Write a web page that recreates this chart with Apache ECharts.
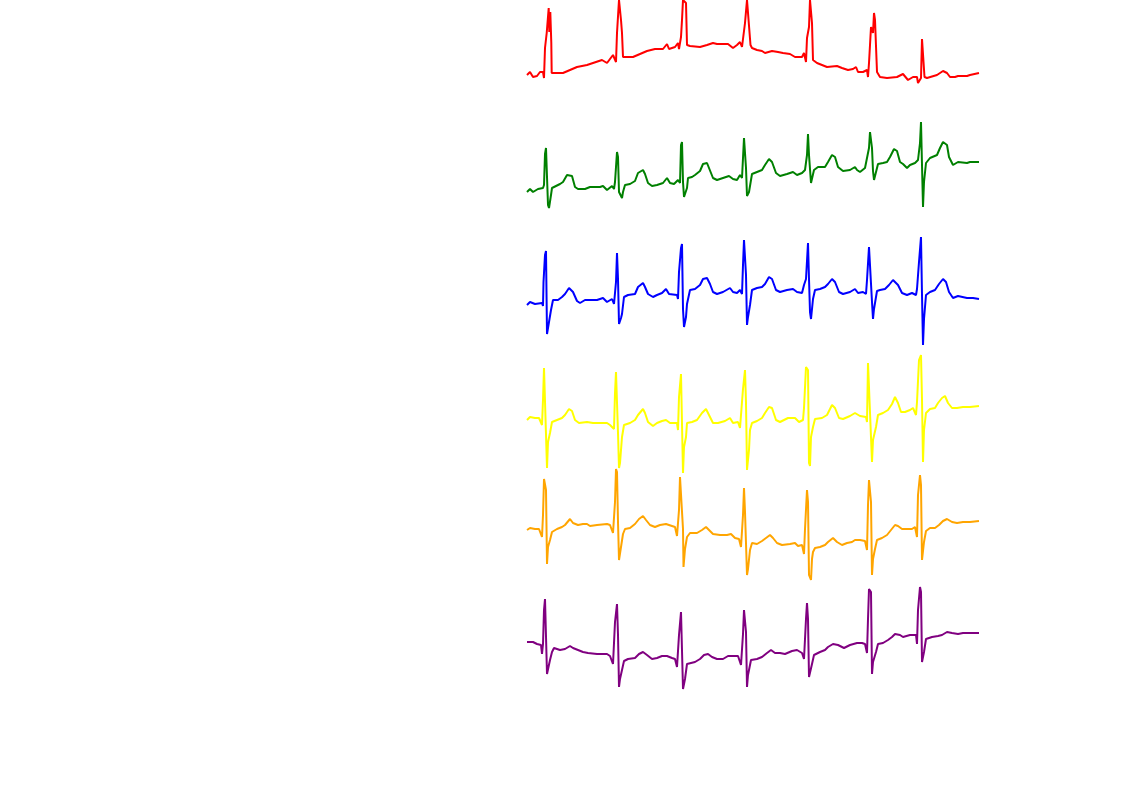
<!DOCTYPE html>
<html>
<head>
<meta charset="utf-8">
<script src="https://cdn.jsdelivr.net/npm/echarts@6/dist/echarts.min.js"></script>
<style>html,body{margin:0;padding:0;background:#fff}#c{width:1122px;height:793px}</style>
</head>
<body>
<div id="c"></div>
<script>
// Each lead: [sample, amplitude] pairs (amplitude positive = up, relative to lead baseline)
const lead1 = [[0,0],[3,3],[6,-2],[10,-1],[13,3],[16,3],[17,-3],[18,27],[19.7,42],[21.7,67],[22.3,43],[23.3,63],[24.3,32],[24.7,2],[36,2],[43,5],[50,8],[60,10],[66,12],[75,15],[76,17],[80,12],[86,20],[89,13],[90,42],[92,75],[94,55],[95,42],[96,18],[98,18],[106,18],[108,20],[113,21],[120,24],[128,26],[130,24],[136,26],[140,31],[142,26],[148,28],[151,32],[152,26],[154,38],[155,55],[156,75],[159,72],[160,30],[163,29],[173,28],[180,30],[186,32],[190,31],[201,31],[203,33],[206,27],[210,30],[213,33],[215,28],[216,26],[218,52],[220,75],[222,73],[223.5,30],[225,27],[230,25],[235,24],[238,22],[245,24],[251,23],[256,22],[263,21],[265,22],[268,18],[275,18],[277,22],[279,13],[280,37],[282,48],[283,75],[285,52],[286,15],[290,12],[295,10],[300,8],[310,9],[315,7],[321,5],[326,6],[329,8],[331,3],[336,3],[340,5],[341,-2],[342,12],[344,48],[346,42],[347,62],[348,55],[350,3],[353,-2],[360,-3],[370,-2],[376,1],[378,2],[381,-5],[386,-2],[390,-2],[391,-8],[394,-3],[394.5,17],[395,36],[397,35],[397.5,-2],[400,-3],[410,0],[416,4],[420,2],[423,-2],[428,-2],[431,-1],[440,-1],[443,0],[452,2]];
const lead2 = [[0,-2],[3,1],[6,-2],[11,1],[16,2],[17,5],[18,36],[19,42],[20,13],[21,-15],[22,-18],[24,-5],[25,2],[26,3],[33,6],[36,8],[40,15],[42,17],[45,14],[48,3],[51,1],[58,1],[63,3],[73,3],[76,4],[80,0],[85,4],[87,1],[88,8],[90,38],[91,33],[92,-2],[94,-3],[95,-8],[96,-2],[98,5],[103,6],[108,9],[111,17],[116,20],[118,16],[121,7],[125,4],[130,5],[136,7],[140,12],[143,7],[147,6],[151,10],[153,7],[154,45],[155,48],[156,8],[157,-7],[159,-5],[160,2],[161,12],[165,13],[168,15],[173,19],[176,26],[180,27],[182,22],[186,12],[190,10],[196,12],[202,14],[206,11],[210,10],[213,15],[215,12],[217,52],[219,22],[220,-6],[222,-2],[225,16],[230,18],[235,20],[238,25],[242,31],[245,28],[249,17],[253,14],[260,16],[266,18],[270,15],[275,17],[278,20],[280,35],[281,56],[282,35],[284,7],[286,5],[287,20],[291,23],[298,23],[301,28],[305,35],[308,33],[311,23],[316,19],[323,20],[328,23],[330,20],[333,18],[338,22],[340,22],[342,42],[343,58],[345,42],[346,19],[347,10],[349,18],[351,26],[356,27],[360,28],[363,33],[367,41],[370,39],[373,28],[376,26],[380,22],[383,25],[388,27],[391,30],[393,47],[394,68],[395,25],[396,-17],[397,8],[399,27],[403,32],[410,35],[413,42],[416,48],[420,45],[422,33],[426,25],[431,28],[440,27],[443,28],[452,28]];
const lead3 = [[0,-5],[3,-2],[8,-4],[15,-3],[16,-6],[16.5,18],[18,45],[19,49],[20,-34],[21,-36],[22,-22],[24,-10],[26,0],[31,0],[35,3],[38,6],[42,12],[46,8],[50,-1],[53,-3],[58,0],[70,0],[76,2],[80,-2],[85,1],[87,-4],[89,18],[90,47],[91,21],[92,-24],[94,-18],[95,-14],[97,3],[101,5],[108,6],[111,13],[116,17],[118,13],[121,6],[126,3],[130,5],[135,7],[139,11],[142,6],[150,5],[151,1],[152,28],[154,52],[155,56],[156,-9],[157,-27],[159,-17],[160,-4],[163,10],[168,11],[173,15],[176,21],[180,22],[183,16],[186,8],[190,6],[196,8],[203,12],[206,8],[210,7],[213,10],[215,6],[216,35],[217,60],[219,25],[220,-25],[221,-17],[223,-5],[225,10],[230,12],[235,13],[238,16],[242,23],[245,21],[249,10],[253,8],[260,10],[266,11],[270,8],[275,7],[277,15],[279,21],[281,57],[282,21],[283,-12],[284,-19],[286,1],[288,10],[293,11],[298,13],[301,16],[305,21],[308,18],[312,8],[316,6],[323,8],[328,11],[331,7],[336,8],[339,6],[340,20],[342,53],[344,51],[345,-2],[346,-19],[347,-9],[350,9],[353,10],[358,11],[362,15],[366,20],[368,21],[371,15],[375,7],[380,5],[385,7],[389,5],[390,11],[392,38],[394,63],[395,5],[396,-45],[397,-19],[399,5],[403,8],[408,10],[412,16],[416,21],[419,18],[422,8],[426,2],[431,4],[440,2],[446,2],[452,1]];
const lead4 = [[0,0],[3,3],[8,2],[12,2],[15,-5],[16,20],[17,52],[19,50],[20,-48],[21,-22],[23,-13],[25,-2],[30,0],[35,2],[38,5],[42,11],[45,9],[48,0],[52,-3],[60,-2],[66,-3],[80,-3],[83,-5],[87,-9],[88,27],[89,48],[90,47],[91,-13],[92,-48],[93,-43],[95,-17],[97,-5],[103,-3],[108,0],[111,5],[116,11],[118,7],[121,-2],[126,-6],[130,-3],[135,-1],[139,0],[143,-3],[150,-3],[151,-10],[152,23],[154,46],[155,47],[156,-53],[157,-27],[159,-17],[160,-3],[165,-2],[170,0],[175,7],[179,11],[181,7],[186,-3],[191,-3],[198,-1],[203,2],[206,-3],[211,-2],[213,-8],[216,31],[218,50],[219,17],[220,-50],[222,-30],[223,-10],[225,-3],[230,-1],[235,2],[238,7],[242,13],[245,12],[249,0],[253,-2],[261,2],[268,2],[272,-2],[276,0],[277,12],[279,53],[281,50],[282,-43],[283,-46],[284,-17],[286,-7],[288,1],[295,2],[300,5],[305,15],[308,12],[312,2],[316,1],[323,4],[328,7],[333,4],[339,3],[340,-2],[341,57],[343,55],[345,-42],[346,-20],[349,-7],[351,5],[356,7],[361,10],[365,16],[368,23],[371,17],[374,8],[378,8],[383,10],[386,12],[389,5],[390,18],[392,60],[394,65],[395,20],[396,-42],[397,-10],[399,7],[403,11],[408,12],[411,17],[415,22],[418,24],[421,17],[425,12],[430,12],[436,13],[443,13],[452,14]];
const lead5 = [[0,-3],[3,-1],[8,-2],[12,-2],[15,-10],[16,12],[17,48],[19,37],[20,-37],[21,-20],[23,-13],[25,-5],[30,-2],[35,0],[38,2],[43,8],[46,4],[51,2],[56,3],[60,3],[63,1],[70,2],[80,3],[83,2],[86,-6],[88,25],[89,58],[90,55],[91,5],[92,-33],[94,-20],[96,-7],[98,-2],[103,-1],[108,3],[112,8],[116,11],[119,7],[123,2],[128,0],[133,2],[139,3],[145,1],[148,0],[150,-9],[152,17],[153,50],[155,48],[156,-2],[156.5,-40],[158,-22],[160,-10],[163,-6],[170,-6],[175,-3],[179,0],[182,-3],[186,-7],[193,-8],[200,-8],[204,-7],[208,-11],[212,-12],[214,-20],[216,12],[217,39],[218,15],[220,-48],[221,-42],[223,-23],[225,-16],[230,-17],[235,-14],[239,-11],[243,-8],[246,-11],[250,-16],[255,-18],[263,-17],[268,-16],[271,-19],[275,-18],[277,-27],[278,-2],[280,37],[281,25],[282,-48],[284,-53],[285,-32],[286,-25],[288,-21],[293,-20],[298,-18],[301,-15],[306,-11],[310,-15],[315,-18],[320,-16],[325,-15],[328,-13],[333,-13],[338,-14],[340,-23],[341,22],[342,47],[344,25],[345,-48],[346,-32],[348,-22],[350,-13],[355,-11],[360,-8],[364,-3],[368,2],[371,1],[375,-2],[380,-2],[385,-2],[388,0],[390,-10],[391,32],[393,52],[394,42],[395,-33],[397,-15],[399,-4],[403,-1],[408,-1],[412,2],[416,6],[420,8],[425,5],[430,4],[436,5],[443,5],[452,6]];
const lead6 = [[0,13],[6,13],[10,11],[14,10],[15,1],[16,11],[17,45],[18,56],[19,55],[20,-19],[21,-20],[23,-5],[25,3],[27,7],[33,5],[38,6],[43,9],[46,7],[51,5],[56,3],[61,2],[70,1],[80,1],[83,-1],[86,-9],[88,33],[90,51],[91,20],[92,-32],[93,-24],[95,-15],[97,-6],[101,-4],[108,-3],[112,1],[116,3],[120,0],[125,-4],[130,-3],[135,-1],[140,-1],[145,-3],[148,-4],[150,-12],[152,20],[154,43],[155,41],[156,-34],[158,-24],[160,-9],[162,-7],[168,-7],[173,-4],[177,0],[181,1],[185,-2],[190,-4],[196,-4],[201,-1],[208,-1],[211,-1],[214,-10],[216,21],[217,45],[219,23],[220,-32],[221,-20],[224,-5],[226,-4],[230,-4],[235,-2],[240,2],[244,5],[248,2],[253,2],[258,1],[265,4],[270,5],[275,2],[277,-4],[279,36],[280,52],[281,36],[282,-22],[284,-24],[285,-9],[287,0],[293,3],[298,5],[301,8],[306,11],[311,10],[317,7],[323,10],[330,12],[335,12],[338,11],[340,2],[341,36],[342,66],[344,63],[345,-19],[346,-7],[349,3],[351,11],[356,12],[361,15],[365,18],[368,21],[373,20],[376,18],[383,20],[389,20],[390,11],[391,45],[393,68],[394,63],[395,-7],[397,3],[399,16],[405,18],[411,19],[415,20],[420,23],[425,22],[431,21],[436,22],[443,22],[452,22]];

const leadNames = ['Lead 1','Lead 2','Lead 3','Lead 4','Lead 5','Lead 6'];
const leadOffsets = [75, 190, 300, 420, 527, 655]; // baseline position of each trace (axis runs top-down)
const leadColors = ['#ff0000','#008000','#0000ff','#ffff00','#ffa500','#800080'];
const leads = [lead1, lead2, lead3, lead4, lead5, lead6];

const chart = echarts.init(document.getElementById('c'), null, {renderer:'canvas'});
chart.setOption({
  animation: false,
  backgroundColor: '#ffffff',
  grid: { left: 527, top: 0, width: 452, height: 793, containLabel: false },
  xAxis: { type: 'value', min: 0, max: 452, show: false },
  yAxis: { type: 'value', min: 0, max: 793, inverse: true, show: false },
  series: leads.map((d, i) => ({
    name: leadNames[i],
    type: 'line',
    symbol: 'none',
    smooth: false,
    clip: true,
    lineStyle: { color: leadColors[i], width: 2 },
    data: d.map(p => [p[0], leadOffsets[i] - p[1]])
  }))
});
</script>
</body>
</html>
